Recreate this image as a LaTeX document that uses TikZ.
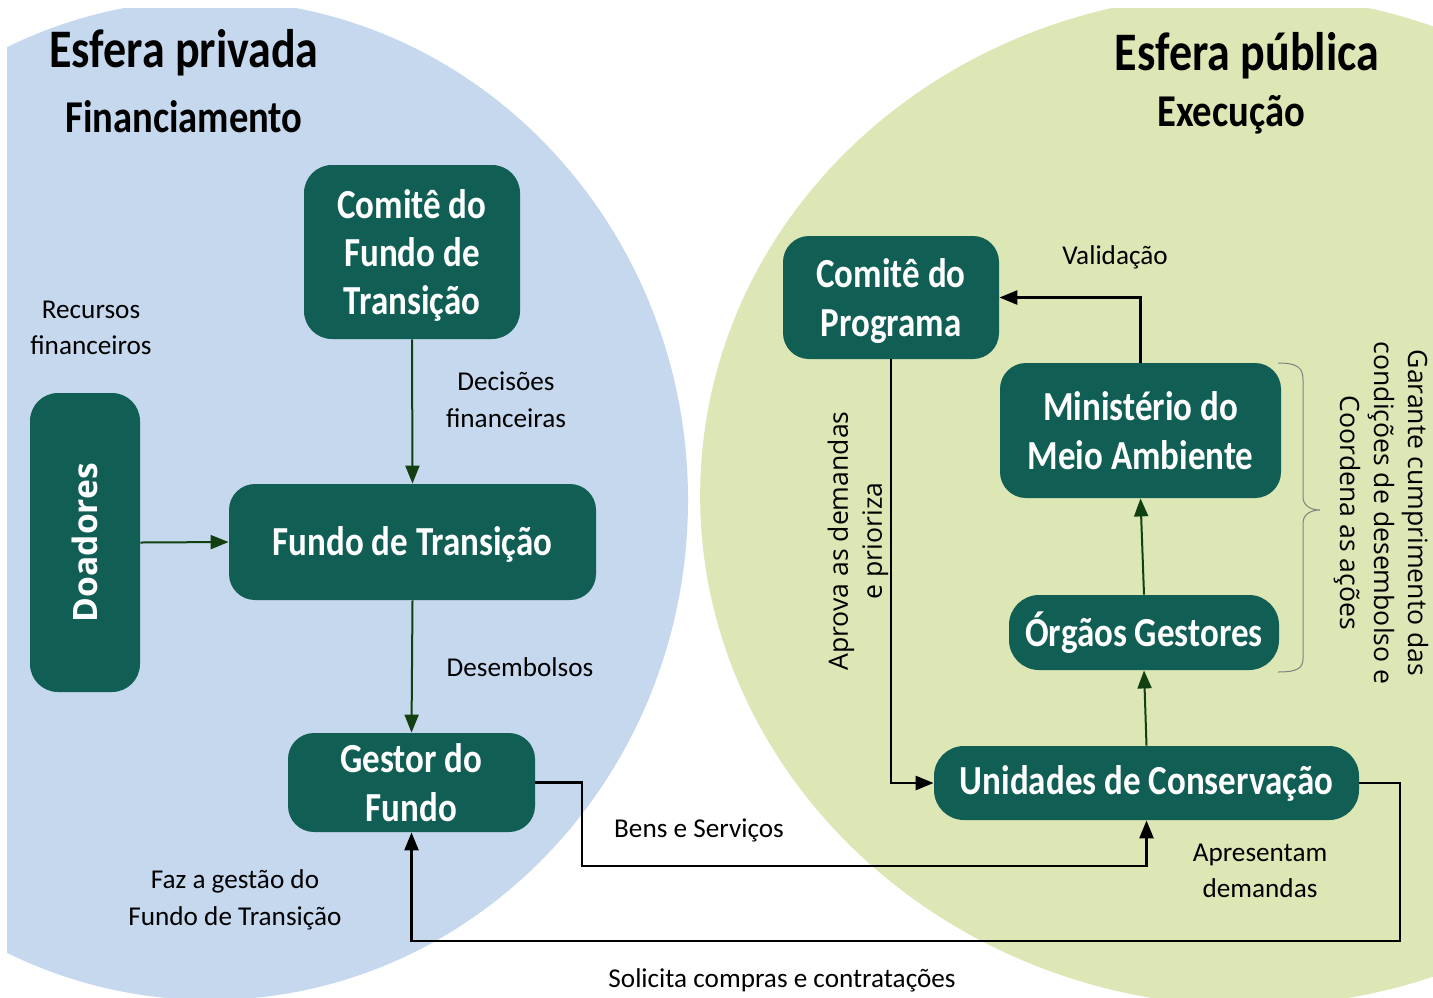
\documentclass[tikz,border=0pt]{standalone}
\usepackage{fontspec}
\setmainfont{Carlito}
\newfontfamily\osans{Open Sans}
\usepackage{graphicx}
\usetikzlibrary{arrows.meta}
\definecolor{boxfill}{RGB}{16,94,84}
\definecolor{bluebg}{RGB}{197,216,238}
\definecolor{greenbg}{RGB}{221,230,181}
\definecolor{arrgreen}{RGB}{18,64,18}
\definecolor{bracegray}{RGB}{128,128,128}
\newcommand{\tallt}[1]{\scalebox{1}[1.18]{#1}}
\newcommand{\lines}[1]{\raisebox{-2pt}[\height][\depth]{\begin{tabular}{@{}c@{}}#1\end{tabular}}}
\begin{document}
\begin{tikzpicture}[x=0.5pt,y=-0.5pt,
  box/.style={fill=boxfill, rounded corners=13pt, inner sep=0pt, text=white,
    font=\fontsize{17.5}{20.5}\selectfont\bfseries, align=center},
  lbl/.style={inner sep=0pt, align=center, font=\fontsize{13.6}{18.3}\selectfont},
  rlbl/.style={inner sep=0pt, align=center, font=\osans\fontsize{13.3}{17}\selectfont},
  garrow/.style={draw=arrgreen, line width=1pt, -{Triangle[length=9pt,width=7pt]}},
  barrow/.style={draw=black, line width=1.3pt, -{Triangle[length=9pt,width=7pt]}},
  titletxt/.style={inner sep=0pt, font=\fontsize{23}{27}\selectfont\bfseries},
  subtxt/.style={inner sep=0pt, font=\fontsize{19.3}{23}\selectfont\bfseries}
]
\useasboundingbox (0,0) rectangle (1433,997);
\fill[white] (0,0) rectangle (1433,997);
% backgrounds
\begin{scope}
  \clip (7,8) rectangle (1433,997);
  \fill[bluebg] (210,500) ellipse [x radius=239pt, y radius=250pt];
\end{scope}
\begin{scope}
  \clip (0,8) rectangle (1433,997);
  \fill[greenbg, rotate around={-3.4:(1245,500)}] (1245,500) ellipse [x radius=272.5pt, y radius=253pt];
\end{scope}

% titles
\node[titletxt] (t1) at (184,53) {\tallt{Esfera privada}};
\node[subtxt] (t2) at (184,117) {\tallt{Financiamento}};
\node[titletxt] (t3) at (1247,56) {\tallt{Esfera pública}};
\node[subtxt] (t4) at (1231,115) {\tallt{Execução}};

% boxes
\node[box, minimum width=108pt, minimum height=87pt, rounded corners=14pt] (cft) at (412,252)
  {\tallt{\lines{Comitê do\\Fundo de\\Transição}}};
\node[box, minimum width=183.5pt, minimum height=58pt] (ft) at (412.5,542)
  {\raisebox{-1pt}[\height][\depth]{\tallt{Fundo de Transição}}};
\node[box, minimum width=55pt, minimum height=149.5pt, rounded corners=14pt] (doad) at (85,542.5) {};
\node[rotate=90, inner sep=0pt, text=white, font=\osans\bfseries\fontsize{16.8}{20}\selectfont] (doadtxt) at (doad.center) {Doadores};
\node[box, minimum width=123.5pt, minimum height=49.5pt] (gestor) at (411.5,782.5)
  {\tallt{\lines{Gestor do\\Fundo}}};
\node[box, minimum width=108pt, minimum height=61.5pt] (cp) at (891,297.5)
  {\tallt{\lines{Comitê do\\Programa}}};
\node[box, minimum width=140.5pt, minimum height=67.5pt] (mma) at (1140.5,430.5)
  {\tallt{\lines{Ministério do\\Meio Ambiente}}};
\node[box, minimum width=135pt, minimum height=37.5pt, rounded corners=15pt] (og) at (1144,632.5)
  {\tallt{Órgãos Gestores}};
\node[box, minimum width=212.5pt, minimum height=37pt, rounded corners=15pt] (unid) at (1146.5,783)
  {\tallt{Unidades de Conservação}};

% labels
\node[lbl] (l1) at (91,328) {Recursos\\financeiros};
\node[lbl] (l2) at (506,400) {Decisões\\financeiras};
\node[lbl] (l3) at (520,667) {Desembolsos};
\node[lbl] (l4) at (235,900) {Faz a gestão do\\Fundo de Transição};
\node[lbl] (l5) at (699,830) {Bens e Serviços};
\node[lbl] (l6) at (782,980) {Solicita compras e contratações};
\node[lbl] (l7) at (1260,871) {Apresentam\\demandas};
\node[lbl] (l8) at (1115,257) {Validação};
\node[rlbl, rotate=90] (l9) at (858,541) {Aprova as demandas\\e prioriza};
\node[rlbl, rotate=-90] (l10) at (1381,513) {Garante cumprimento das\\condições de desembolso e\\Coordena as ações};

% brace
\draw[bracegray, line width=0.5pt] (1278,363) .. controls (1298,363) and (1303,368) .. (1303,380)
  -- (1303,497) .. controls (1303,505) and (1310,510) .. (1320,510)
  .. controls (1310,510) and (1303,515) .. (1303,523)
  -- (1303,658) .. controls (1303,668) and (1298,672) .. (1278,672);

% coordinates for routed connectors
\coordinate (b1) at (582,866);
\coordinate (s1) at (1400,941);

% connectors
\draw[garrow] (cft.south) -- (ft.north);
\draw[garrow] (ft.south) -- (gestor.north);
\draw[garrow] (doad.east) -- (ft.west);
\draw[garrow] (og.north) -- (mma.south);
\draw[garrow] (unid.north) -- (og.south);
\draw[barrow] (gestor.east) -| (b1) -| (unid.south);
\draw[barrow] (unid.east) -| (s1) -| (gestor.south);
\draw[barrow] (cp.south) |- (unid.west);
\draw[barrow] (mma.north) |- (cp.east);
\end{tikzpicture}
\end{document}
